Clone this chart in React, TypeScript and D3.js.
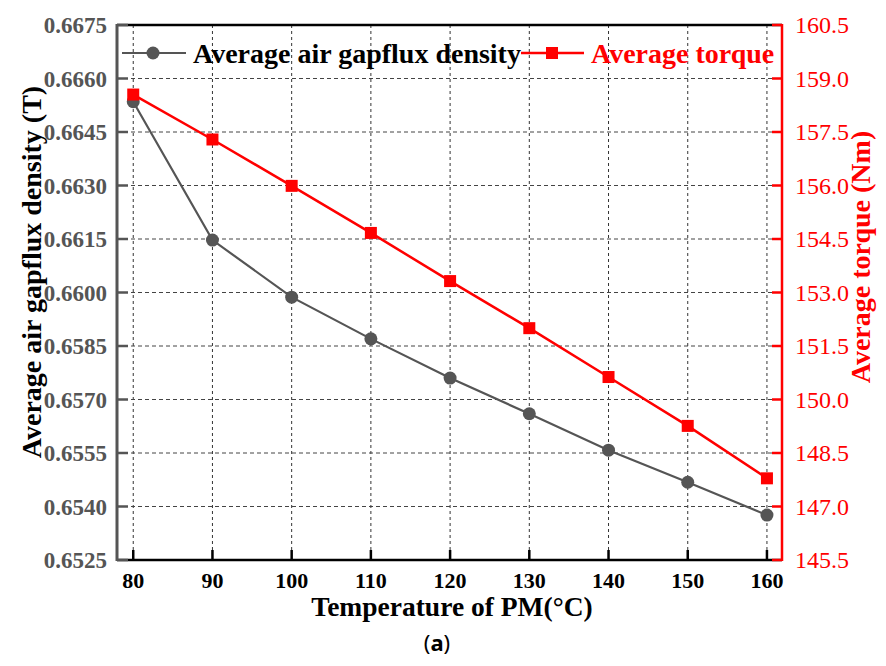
import { useEffect, useRef } from 'react';
import * as d3 from 'd3';

const temps = [80, 90, 100, 110, 120, 130, 140, 150, 160];
const fluxDensity = [0.66535, 0.66147, 0.65987, 0.6587, 0.6576, 0.6566, 0.65558, 0.65468, 0.65376];
const torque = [158.55, 157.29, 155.99, 154.67, 153.32, 152.0, 150.63, 149.26, 147.79];
const leftTicks = [0.6525, 0.654, 0.6555, 0.657, 0.6585, 0.66, 0.6615, 0.663, 0.6645, 0.666, 0.6675];
const rightTicks = [145.5, 147, 148.5, 150, 151.5, 153, 154.5, 156, 157.5, 159, 160.5];

const W = 886;
const H = 666;
const L = 117;
const R = 782;
const T = 25;
const B = 560;
const SERIF = 'Liberation Serif';
const GREY = '#555555';
const RED = '#ff0000';

export default function App() {
  const ref = useRef<SVGSVGElement>(null);

  useEffect(() => {
    const svg = d3.select(ref.current);
    svg.selectAll('*').remove();

    const x = d3.scaleLinear().domain([77.95, 161.9]).range([L, R]);
    const yL = d3.scaleLinear().domain([0.6525, 0.6675]).range([B, T]);
    const yR = d3.scaleLinear().domain([145.5, 160.5]).range([B, T]);

    svg.append('rect').attr('width', W).attr('height', H).attr('fill', '#fff');

    // grid
    const grid = svg.append('g');
    temps.forEach((t) => {
      grid
        .append('line')
        .attr('x1', x(t))
        .attr('x2', x(t))
        .attr('y1', T)
        .attr('y2', B)
        .attr('stroke', '#333')
        .attr('stroke-width', 1)
        .attr('stroke-dasharray', '3,3');
    });
    leftTicks.slice(1, -1).forEach((v) => {
      grid
        .append('line')
        .attr('x1', L)
        .attr('x2', R)
        .attr('y1', yL(v))
        .attr('y2', yL(v))
        .attr('stroke', '#444')
        .attr('stroke-width', 1)
        .attr('stroke-dasharray', '4,3');
    });

    // frame
    svg.append('line').attr('x1', L).attr('x2', R).attr('y1', T).attr('y2', T).attr('stroke', '#000').attr('stroke-width', 2.5);
    svg.append('line').attr('x1', L).attr('x2', R).attr('y1', B).attr('y2', B).attr('stroke', '#000').attr('stroke-width', 2.5);
    svg.append('line').attr('x1', L).attr('x2', L).attr('y1', T - 1).attr('y2', B + 1).attr('stroke', GREY).attr('stroke-width', 3);
    svg.append('line').attr('x1', R).attr('x2', R).attr('y1', T - 1).attr('y2', B + 1).attr('stroke', RED).attr('stroke-width', 2.5);

    // left ticks
    leftTicks.forEach((v) => {
      svg.append('line').attr('x1', L).attr('x2', L + 11).attr('y1', yL(v)).attr('y2', yL(v)).attr('stroke', GREY).attr('stroke-width', 2.5);
      svg
        .append('text')
        .attr('x', L - 10)
        .attr('y', yL(v))
        .attr('dy', '0.35em')
        .attr('text-anchor', 'end')
        .style('font-family', SERIF)
        .attr('font-weight', 'bold')
        .attr('font-size', 23)
        .attr('fill', GREY)
        .text(v.toFixed(4));
    });

    // right ticks
    rightTicks.forEach((v) => {
      svg.append('line').attr('x1', R - 10).attr('x2', R).attr('y1', yR(v)).attr('y2', yR(v)).attr('stroke', RED).attr('stroke-width', 2.5);
      svg
        .append('text')
        .attr('x', R + 13)
        .attr('y', yR(v))
        .attr('dy', '0.35em')
        .style('font-family', SERIF)
        .attr('font-size', 24)
        .attr('fill', RED)
        .text(v.toFixed(1));
    });

    // bottom ticks
    temps.forEach((t) => {
      svg.append('line').attr('x1', x(t)).attr('x2', x(t)).attr('y1', B).attr('y2', B - 10).attr('stroke', '#000').attr('stroke-width', 2.5);
      svg
        .append('text')
        .attr('x', x(t))
        .attr('y', 588)
        .attr('text-anchor', 'middle')
        .style('font-family', SERIF)
        .attr('font-weight', 'bold')
        .attr('font-size', 22)
        .attr('fill', '#000')
        .text(String(t));
    });

    // titles
    svg
      .append('text')
      .attr('x', 452)
      .attr('y', 616)
      .attr('text-anchor', 'middle')
      .style('font-family', SERIF)
      .attr('font-weight', 'bold')
      .attr('font-size', 27.5)
      .text('Temperature of PM(°C)');
    svg
      .append('text')
      .attr('transform', 'translate(41,272) rotate(-90)')
      .attr('text-anchor', 'middle')
      .style('font-family', SERIF)
      .attr('font-weight', 'bold')
      .attr('font-size', 28)
      .attr('fill', '#000')
      .text('Average air gapflux density (T)');
    svg
      .append('text')
      .attr('transform', 'translate(870,257) rotate(-90)')
      .attr('text-anchor', 'middle')
      .style('font-family', SERIF)
      .attr('font-weight', 'bold')
      .attr('font-size', 28)
      .attr('fill', RED)
      .text('Average torque (Nm)');
    svg
      .append('text')
      .attr('x', 437)
      .attr('y', 651)
      .attr('text-anchor', 'middle')
      .style('font-family', 'Noto Sans')
      .attr('font-size', 22)
      .attr('fill', '#000')
      .call((t) => {
        t.append('tspan').text('(');
        t.append('tspan').attr('font-weight', 'bold').text('a');
        t.append('tspan').text(')');
      });

    // series
    const lineL = d3
      .line<number>()
      .x((_, i) => x(temps[i]))
      .y((d) => yL(d));
    const lineR = d3
      .line<number>()
      .x((_, i) => x(temps[i]))
      .y((d) => yR(d));

    svg.append('path').attr('d', lineL(fluxDensity)).attr('fill', 'none').attr('stroke', GREY).attr('stroke-width', 2.2);
    fluxDensity.forEach((d, i) => {
      svg.append('circle').attr('cx', x(temps[i])).attr('cy', yL(d)).attr('r', 6.5).attr('fill', GREY);
    });

    svg.append('path').attr('d', lineR(torque)).attr('fill', 'none').attr('stroke', RED).attr('stroke-width', 2.5);
    torque.forEach((d, i) => {
      svg
        .append('rect')
        .attr('x', x(temps[i]) - 6)
        .attr('y', yR(d) - 6)
        .attr('width', 12)
        .attr('height', 12)
        .attr('fill', RED);
    });

    // legend
    const ly = 53;
    svg.append('line').attr('x1', 122).attr('x2', 186).attr('y1', ly).attr('y2', ly).attr('stroke', GREY).attr('stroke-width', 2.2);
    svg.append('circle').attr('cx', 153).attr('cy', ly).attr('r', 6.5).attr('fill', GREY);
    svg
      .append('text')
      .attr('x', 193)
      .attr('y', 63)
      .style('font-family', SERIF)
      .attr('font-weight', 'bold')
      .attr('font-size', 28)
      .attr('fill', '#000')
      .text('Average air gapflux density');
    svg.append('line').attr('x1', 521).attr('x2', 584).attr('y1', ly).attr('y2', ly).attr('stroke', RED).attr('stroke-width', 2.5);
    svg.append('rect').attr('x', 546).attr('y', ly - 6).attr('width', 12).attr('height', 12).attr('fill', RED);
    svg
      .append('text')
      .attr('x', 591)
      .attr('y', 63)
      .style('font-family', SERIF)
      .attr('font-weight', 'bold')
      .attr('font-size', 28)
      .attr('fill', RED)
      .text('Average torque');
  }, []);

  return <svg ref={ref} width={W} height={H} style={{ display: 'block', margin: -8 }} />;
}
